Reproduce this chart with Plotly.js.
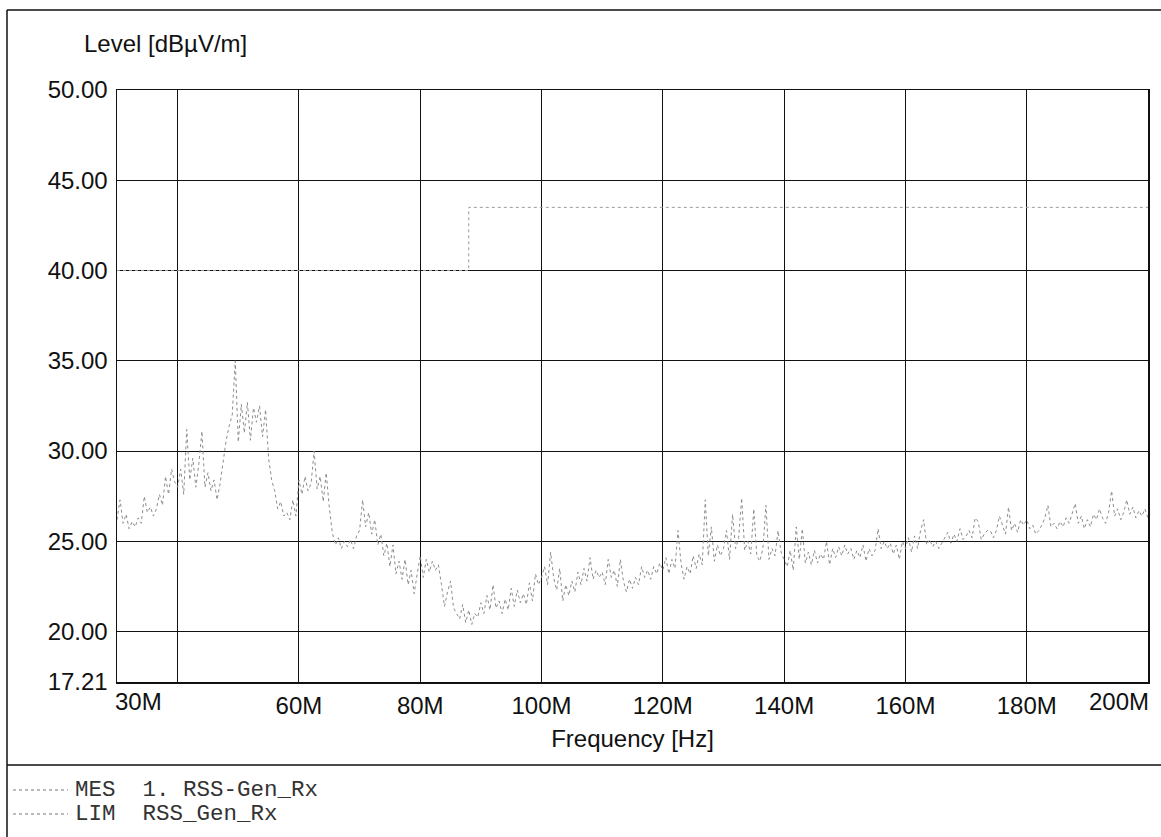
<!DOCTYPE html>
<html>
<head>
<meta charset="utf-8">
<script src="https://cdn.plot.ly/plotly-3.0.1.min.js"></script>
<style>
  html, body { margin: 0; padding: 0; background: #ffffff; }
  #chart { width: 1161px; height: 837px; }
</style>
</head>
<body>
<div id="chart"></div>
<script>
// ---------- data ----------
const sweepStartMHz = 30;
const sweepStepMHz = 0.5;

// Measured level (dBµV/m), one value per 0.5 MHz from 30 MHz to 200 MHz
const mesLevel = [
  26.2, 27.3, 26.0, 26.5, 25.7, 26.1, 25.8, 26.3, 26.0, 27.5, 26.6, 26.9, 26.4, 26.8, 27.6, 27.0, 28.6, 27.6, 29.0, 28.3,
  28.0, 29.0, 27.6, 31.2, 28.4, 29.6, 28.0, 29.3, 31.1, 28.0, 28.8, 27.8, 28.4, 27.3, 28.2, 29.5, 30.6, 31.4, 32.0, 35.0,
  30.5, 32.6, 31.0, 32.7, 30.6, 32.4, 31.6, 32.5, 30.8, 32.3, 29.6, 28.4, 27.8, 26.8, 27.2, 26.4, 26.6, 26.2, 27.3, 26.4,
  28.4, 27.6, 28.6, 27.8, 28.2, 30.0, 27.9, 28.6, 27.2, 28.8, 26.9, 25.5, 24.8, 25.2, 24.6, 25.0, 24.7, 25.1, 24.6, 25.3,
  25.6, 27.3, 25.8, 26.6, 25.4, 26.2, 24.8, 25.4, 24.2, 24.9, 23.6, 24.8, 23.2, 23.9, 22.9, 24.0, 22.6, 23.4, 22.1, 23.2,
  24.2, 23.0, 24.0, 23.3, 23.9, 23.4, 23.7, 22.6, 21.4, 22.2, 22.8, 21.3, 21.0, 20.7, 21.5, 20.5, 21.2, 20.4, 21.0, 20.8,
  21.6, 21.0, 22.0, 21.2, 22.6, 21.3, 21.7, 21.0, 21.8, 21.2, 22.4, 21.4, 22.3, 21.6, 22.1, 21.5, 22.7, 21.7, 23.2, 22.6,
  23.0, 23.6, 22.6, 24.4, 23.0, 22.3, 23.5, 21.7, 22.6, 22.0, 22.8, 22.2, 23.3, 22.6, 23.5, 22.8, 24.1, 22.9, 23.4, 23.0,
  23.3, 22.6, 24.0, 23.0, 23.4, 22.5, 24.0, 22.8, 22.2, 22.9, 22.4, 23.0, 22.6, 23.6, 23.0, 23.4, 22.9, 23.6, 23.2, 23.8,
  23.4, 24.1, 23.2, 24.0, 23.5, 25.6, 23.8, 22.9, 23.6, 23.2, 24.2, 23.5, 24.3, 23.7, 27.3, 24.2, 25.8, 23.9, 24.8, 24.2,
  24.6, 25.6, 24.0, 26.5, 24.6, 25.2, 27.4, 24.5, 25.0, 24.3, 26.8, 24.2, 23.9, 24.6, 27.0, 24.0, 24.6, 24.2, 25.6, 24.4,
  24.0, 23.6, 24.5, 23.4, 25.8, 24.0, 25.7, 23.8, 24.4, 23.7, 24.5, 23.8, 24.3, 24.0, 25.0, 23.7, 24.6, 24.1, 24.7, 24.2,
  24.8, 24.3, 24.6, 24.0, 24.5, 24.1, 24.8, 23.9, 24.6, 24.2, 24.5, 25.7, 24.6, 25.0, 24.6, 24.9, 24.3, 24.8, 24.0, 25.0,
  24.6, 25.2, 24.4, 25.3, 24.6, 25.6, 26.2, 24.8, 25.1, 24.7, 25.0, 24.6, 24.9, 25.2, 25.5, 24.9, 25.4, 25.0, 25.7, 25.1,
  25.3, 25.6, 25.2, 26.3, 26.1, 25.1, 25.4, 25.6, 25.6, 25.2, 25.6, 26.4, 25.9, 25.4, 26.9, 25.6, 26.0, 25.5, 26.2, 25.9,
  26.2, 25.7, 25.9, 25.4, 25.6, 25.9, 26.3, 27.0, 25.8, 26.0, 25.7, 26.1, 25.8, 26.3, 26.0, 26.6, 27.1, 26.0, 26.4, 25.7,
  26.2, 25.8, 26.5, 26.2, 26.8, 26.3, 26.0, 26.6, 27.8, 26.4, 26.8, 26.2, 26.6, 27.3, 26.5, 26.9, 26.3, 26.7, 26.4, 26.8, 26.3
];

// Limit line RSS_Gen_Rx
const limFreqMHz = [30, 88, 88, 200];
const limLevel = [40, 40, 43.5, 43.5];

// Axis ticks
const yTickVals = [17.21, 20, 25, 30, 35, 40, 45, 50];
const yTickText = ['17.21', '20.00', '25.00', '30.00', '35.00', '40.00', '45.00', '50.00'];
const xTickVals = [40, 60, 80, 100, 120, 140, 160, 180];
const xTickText = ['', '60M', '80M', '100M', '120M', '140M', '160M', '180M'];
const xEdgeLabels = [{f: 30, text: '30M', anchor: 'left', shift: -4}, {f: 200, text: '200M', anchor: 'right', shift: 3}];

const legendRows = [
  {label: 'MES\u00a0\u00a01.\u00a0RSS-Gen_Rx'},
  {label: 'LIM\u00a0\u00a0RSS_Gen_Rx'}
];

// ---------- build ----------
const mesFreqMHz = mesLevel.map((_, i) => sweepStartMHz + i * sweepStepMHz);

const W = 1161, H = 837;
const M = {l: 117, r: 13, t: 90, b: 155};
const PW = W - M.l - M.r, PH = H - M.t - M.b;
const px = x => (x - M.l) / PW;        // page px -> paper x
const py = y => (H - M.b - y) / PH;    // page px -> paper y

const sans = 'Liberation Sans, Arial, sans-serif';
const mono = 'Liberation Mono, Courier New, monospace';
const traceGray = '#8c8c8c';

const traces = [
  {
    x: mesFreqMHz, y: mesLevel, type: 'scatter', mode: 'lines',
    name: 'MES 1. RSS-Gen_Rx',
    line: {color: traceGray, width: 1, dash: 'dot'},
    hoverinfo: 'x+y'
  },
  {
    x: limFreqMHz, y: limLevel, type: 'scatter', mode: 'lines',
    name: 'LIM RSS_Gen_Rx',
    line: {color: '#9a9a9a', width: 1, dash: 'dot'},
    hoverinfo: 'x+y'
  }
];

const annotations = [
  {text: 'Level [dBµV/m]', xref: 'paper', yref: 'paper', x: px(82), y: py(43),
   xanchor: 'left', yanchor: 'middle', showarrow: false,
   font: {family: sans, size: 24, color: '#111'}}
];
xEdgeLabels.forEach(e => annotations.push({
  text: e.text, xref: 'x', yref: 'paper', x: e.f, y: 0, yshift: -4, xshift: e.shift,
  xanchor: e.anchor, yanchor: 'top', showarrow: false,
  font: {family: sans, size: 24, color: '#111'}
}));
legendRows.forEach((r, i) => annotations.push({
  text: r.label, xref: 'paper', yref: 'paper', x: px(73), y: py(790 + i * 24),
  xanchor: 'left', yanchor: 'middle', showarrow: false,
  font: {family: mono, size: 22.5, color: '#333'}
}));

const shapes = [
  // outer frame
  {type: 'line', xref: 'paper', yref: 'paper', x0: px(7), x1: px(1161), y0: py(10), y1: py(10), line: {color: '#111', width: 1.5}},
  {type: 'line', xref: 'paper', yref: 'paper', x0: px(7), x1: px(7), y0: py(10), y1: py(837), line: {color: '#111', width: 1.5}},
  {type: 'line', xref: 'paper', yref: 'paper', x0: px(7), x1: px(1161), y0: py(765), y1: py(765), line: {color: '#111', width: 1.5}}
];
legendRows.forEach((r, i) => shapes.push({
  type: 'line', xref: 'paper', yref: 'paper', x0: px(13), x1: px(68), y0: py(790 + i * 24), y1: py(790 + i * 24),
  line: {color: '#777', width: 1, dash: 'dot'}
}));

const layout = {
  width: W, height: H,
  margin: M,
  paper_bgcolor: '#ffffff', plot_bgcolor: '#ffffff',
  showlegend: false,
  font: {family: sans, size: 24, color: '#111'},
  xaxis: {
    range: [30, 200], tickmode: 'array', tickvals: xTickVals, ticktext: xTickText,
    showgrid: true, gridcolor: '#111', gridwidth: 1,
    zeroline: false, showline: true, linecolor: '#111', linewidth: 1.5, mirror: true,
    ticks: '', ticklabelstandoff: 2,
    tickfont: {family: sans, size: 24, color: '#111'},
    title: {text: 'Frequency [Hz]', font: {family: sans, size: 24, color: '#111'}, standoff: 12}
  },
  yaxis: {
    range: [17.21, 50], tickmode: 'array', tickvals: yTickVals, ticktext: yTickText,
    showgrid: true, gridcolor: '#111', gridwidth: 1,
    zeroline: false, showline: true, linecolor: '#111', linewidth: 1.5, mirror: true,
    ticks: '', ticklabelstandoff: 3,
    tickfont: {family: sans, size: 24, color: '#111'}
  },
  annotations: annotations,
  shapes: shapes
};

Plotly.newPlot('chart', traces, layout, {displayModeBar: false, staticPlot: true});
</script>
</body>
</html>
